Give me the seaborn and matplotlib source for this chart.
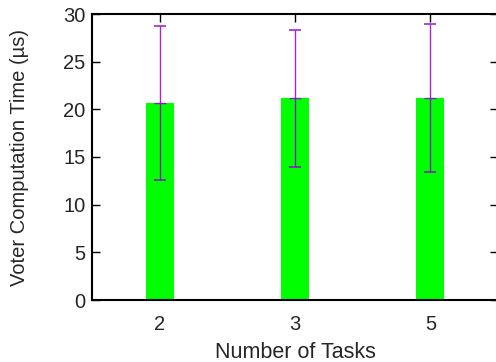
import matplotlib
matplotlib.use("Agg")
import matplotlib.pyplot as plt
import seaborn as sns
import pandas as pd

categories = ["2", "3", "5"]
mean_time = [20.67, 21.15, 21.15]
err_low = [12.6, 14.0, 13.4]
err_high = [28.75, 28.35, 28.9]

sns.set_style("ticks")
plt.rcParams['font.family'] = ['Liberation Sans', 'DejaVu Sans']

fig = plt.figure(figsize=(4.96, 3.62), dpi=100)
ax = fig.add_axes([92/496, 62/362, 406/496, 286/362])

df = pd.DataFrame({"tasks": categories, "time": mean_time})
sns.barplot(data=df, x="tasks", y="time", color="#00ff00", saturation=1,
            width=0.206, linewidth=0, ax=ax, zorder=2)

xs = range(len(categories))
lower = [m - lo for m, lo in zip(mean_time, err_low)]
upper = [hi - m for m, hi in zip(mean_time, err_high)]
ax.errorbar(list(xs), mean_time, yerr=[lower, upper], fmt="_", color="#9400d3",
            ecolor="#9400d3", elinewidth=1.0, capsize=4.5, capthick=1.2,
            markersize=9, alpha=0.85, zorder=3)

fs = 14.5
ax.set_xlim(-0.5, 2.5)
ax.set_ylim(0, 30)
ax.set_yticks([0, 5, 10, 15, 20, 25, 30])
ax.set_xlabel("Number of Tasks", fontsize=15.5)
ax.set_ylabel("Voter Computation Time (µs)", fontsize=fs)
ax.xaxis.set_label_coords(0.5, (300 - 352) / 286)
ax.xaxis.label.set_va("center")
ax.yaxis.set_label_coords((20 - 92) / 406, 0.5)
ax.yaxis.label.set_va("center")
ax.yaxis.label.set_ha("center")
ax.tick_params(axis="both", direction="in", length=6, width=1.0, labelsize=fs,
               top=True, right=True, color="black")
ax.tick_params(axis="y", pad=4.5)
ax.tick_params(axis="x", pad=11)
for s in ax.spines.values():
    s.set_linewidth(1.5)
    s.set_color("black")
ax.spines["right"].set_visible(False)

fig.savefig("out.png", dpi=100)
